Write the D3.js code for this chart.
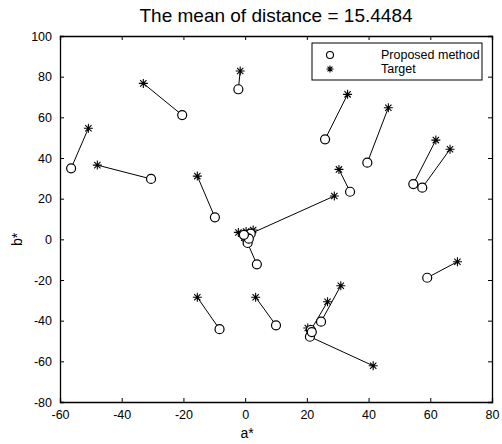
<!DOCTYPE html>
<html><head><meta charset="utf-8">
<script src="https://cdn.jsdelivr.net/npm/d3@7"></script>
<style>body{margin:0;background:#fff;} svg{display:block;font-family:"Liberation Sans",Arial,sans-serif;}</style>
</head><body>
<script>
// Proposed method (circles)
const proposedA = [-56.4,-30.5,-20.4,-9.8,-2.2,25.9,39.6,54.5,57.4,34.0,1.8,3.8,10.0,24.6,21.3,21.0,21.6,59.0,-8.3,0.2,0.8,1.2,-0.4];
const proposedB = [34.9,29.7,61.1,10.8,73.8,49.2,37.7,27.2,25.4,23.4,2.8,-12.3,-42.3,-40.5,-44.6,-47.9,-45.6,-18.9,-44.2,1.2,-1.8,0.3,2.2];
// Target (stars)
const targetA = [-50.8,-47.9,-33.0,-15.5,-1.6,33.2,46.4,61.8,66.4,30.4,28.9,0.6,3.4,31.0,26.7,41.5,20.3,68.8,-15.5,-2.2,-0.3,2.6,0.3];
const targetB = [54.6,36.5,76.7,31.1,82.8,71.3,64.7,48.8,44.3,34.4,21.3,-1.2,-28.5,-22.8,-30.7,-62.2,-43.6,-11.0,-28.5,3.4,0.8,4.6,3.8];
const xTicks = [-60,-40,-20,0,20,40,60,80];
const yTicks = [-80,-60,-40,-20,0,20,40,60,80,100];
const titleText = "The mean of distance = 15.4484";
const legendLabels = ["Proposed method","Target"];

const W=502,H=444;
const svg=d3.select("body").append("svg").attr("width",W).attr("height",H);
const x=d3.scaleLinear().domain([-60,80]).range([60,492]);
const y=d3.scaleLinear().domain([-80,100]).range([402,36]);

const pairs=proposedA.map((a,i)=>({pa:a,pb:proposedB[i],ta:targetA[i],tb:targetB[i]}));

const fmt=d=>String(d);
const gB=svg.append("g").attr("transform",`translate(0,${y(-80)})`).call(d3.axisBottom(x).tickValues(xTicks).tickSize(-4).tickPadding(8).tickFormat(fmt));
const gT=svg.append("g").attr("transform",`translate(0,${y(100)})`).call(d3.axisTop(x).tickValues(xTicks).tickSize(-4).tickFormat(""));
const gL=svg.append("g").attr("transform",`translate(${x(-60)},0)`).call(d3.axisLeft(y).tickValues(yTicks).tickSize(-4).tickPadding(8).tickFormat(fmt));
const gR=svg.append("g").attr("transform",`translate(${x(80)},0)`).call(d3.axisRight(y).tickValues(yTicks).tickSize(-4).tickFormat(""));
[gB,gT,gL,gR].forEach(g=>{
  g.selectAll(".domain").attr("stroke","#000").attr("stroke-width",1.3);
  g.selectAll(".tick line").attr("stroke","#000").attr("stroke-width",1);
  g.selectAll("text").attr("fill","#000").attr("font-size",12.5).attr("font-family","Liberation Sans, Arial, sans-serif");
});

svg.append("g").selectAll("line").data(pairs).join("line")
  .attr("x1",d=>x(d.pa)).attr("y1",d=>y(d.pb))
  .attr("x2",d=>x(d.ta)).attr("y2",d=>y(d.tb))
  .attr("stroke","#000").attr("stroke-width",1);

function star(g,cx,cy,r){
  const p=`M${cx-r},${cy}L${cx+r},${cy}M${cx},${cy-r}L${cx},${cy+r}`+
    `M${cx-r*0.7},${cy-r*0.7}L${cx+r*0.7},${cy+r*0.7}M${cx-r*0.7},${cy+r*0.7}L${cx+r*0.7},${cy-r*0.7}`;
  g.append("path").attr("d",p).attr("stroke","#000").attr("stroke-width",1.1).attr("fill","none");
}
const gs=svg.append("g");
pairs.forEach(d=>star(gs,x(d.ta),y(d.tb),4.5));

svg.append("g").selectAll("circle").data(pairs).join("circle")
  .attr("cx",d=>x(d.pa)).attr("cy",d=>y(d.pb)).attr("r",4.5)
  .attr("fill","#fff").attr("stroke","#000").attr("stroke-width",1.2);

svg.append("text").attr("x",276).attr("y",22).attr("text-anchor","middle")
  .attr("font-size",19).attr("fill","#000").text(titleText);
svg.append("text").attr("x",x(0)+2).attr("y",438).attr("text-anchor","middle")
  .attr("font-size",14).text("a*");
svg.append("text").attr("transform",`translate(22,${y(0)}) rotate(-90)`).attr("text-anchor","middle")
  .attr("font-size",14).text("b*");

const lg=svg.append("g");
lg.append("rect").attr("x",312).attr("y",43).attr("width",170).attr("height",37)
  .attr("fill","#fff").attr("stroke","#000").attr("stroke-width",1);
lg.append("circle").attr("cx",330).attr("cy",55).attr("r",3.5).attr("fill","#fff").attr("stroke","#000").attr("stroke-width",1.1);
star(lg,330,69,3.5);
lg.append("text").attr("x",381).attr("y",59).attr("font-size",12.5).text(legendLabels[0]);
lg.append("text").attr("x",381).attr("y",73).attr("font-size",12.5).text(legendLabels[1]);
</script>
</body></html>
